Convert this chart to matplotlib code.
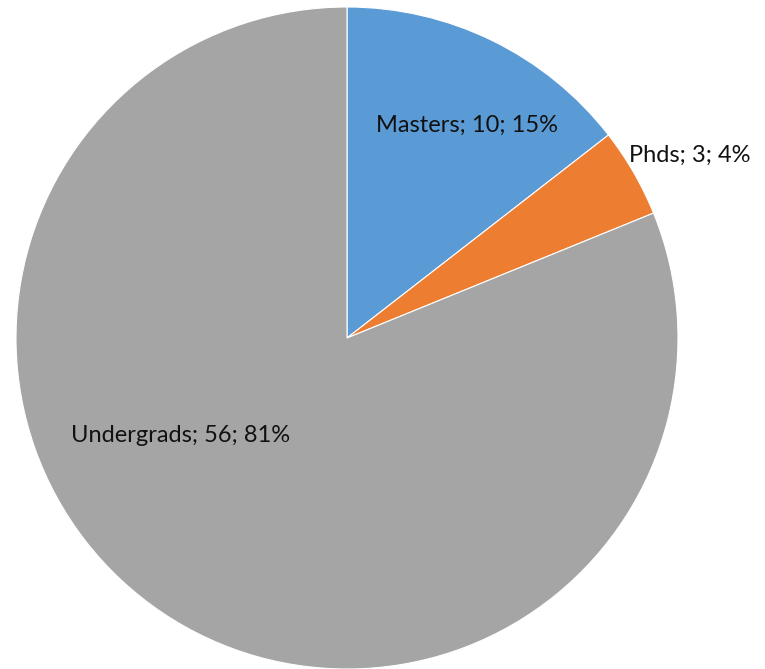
import numpy as np
import matplotlib
matplotlib.use("Agg")
import matplotlib.pyplot as plt

categories = ["Masters", "Phds", "Undergrads"]
values = [10, 3, 56]
percent_labels = ["15%", "4%", "81%"]
colors = ["#5B9BD5", "#ED7D31", "#A5A5A5"]
# label placement (polar: angle in degrees, distance as fraction of radius)
label_angles = [60.6, 28.1, 210.5]
label_dists = [0.739, 1.174, 0.582]

fig = plt.figure(figsize=(7.65, 6.69), dpi=100)
ax = fig.add_axes([16/765, 0.0, 662/765, 662/669])
ax.pie(values, colors=colors, startangle=90, counterclock=False, radius=1.0,
       wedgeprops=dict(edgecolor="white", linewidth=0.8))
ax.set_xlim(-1, 1)
ax.set_ylim(-1, 1)
ax.set_aspect("equal")
ax.axis("off")

for cat, v, p, a, d in zip(categories, values, percent_labels, label_angles, label_dists):
    x = d * np.cos(np.radians(a))
    y = d * np.sin(np.radians(a))
    ax.text(x, y, f"{cat}; {v}; {p}", ha="center", va="center",
            fontsize=17, family=["Lato", "DejaVu Sans"], color="#111111")

fig.savefig("out.png", dpi=100)
